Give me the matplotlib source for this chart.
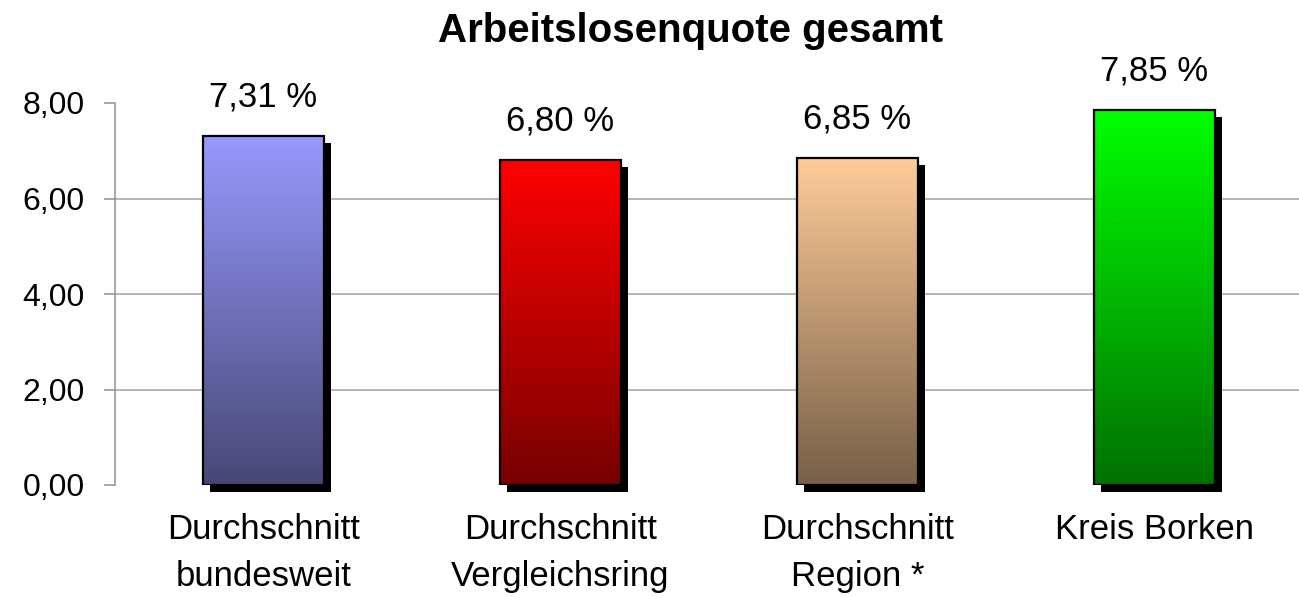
import numpy as np
import matplotlib
matplotlib.use("Agg")
import matplotlib.pyplot as plt
import matplotlib.transforms as mtransforms

categories = ["Durchschnitt\nbundesweit", "Durchschnitt\nVergleichsring", "Durchschnitt\nRegion *", "Kreis Borken"]
values = [7.31, 6.80, 6.85, 7.85]
value_labels = ["7,31 %", "6,80 %", "6,85 %", "7,85 %"]
top_colors = [(153, 153, 255), (255, 0, 0), (255, 204, 153), (0, 255, 0)]
bottom_colors = [(71, 71, 117), (119, 0, 0), (119, 95, 71), (0, 112, 0)]
yticks = [0, 2, 4, 6, 8]
ytick_labels = ["0,00", "2,00", "4,00", "6,00", "8,00"]
title = "Arbeitslosenquote gesamt"

plt.rcParams['font.family'] = ['Liberation Sans', 'DejaVu Sans']

W, H = 1299, 597
fig = plt.figure(figsize=(W / 100, H / 100), dpi=100)
ax = fig.add_axes([115 / W, 112 / H, (1303 - 115) / W, 382 / H])
ax.set_xlim(-0.5, 3.5)
ax.set_ylim(0, 8)

# gridlines
for g in [2, 4, 6]:
    ax.axhline(g, color='#a0a0a0', lw=1.1, zorder=0)

bw = 0.41
shadow_tr = mtransforms.offset_copy(ax.transData, fig=fig, x=7, y=-7, units='dots')
for i, v in enumerate(values):
    # shadow
    ax.bar(i, v, width=bw, color='black', transform=shadow_tr, clip_on=False, zorder=1)
    # gradient
    n = 256
    t = np.linspace(0, 1, n)[:, None]
    top = np.array(top_colors[i]) / 255
    bot = np.array(bottom_colors[i]) / 255
    grad = top[None, :] * (1 - t) + bot[None, :] * t
    grad = grad[:, None, :]
    ax.imshow(grad, extent=[i - bw / 2, i + bw / 2, 0, v], aspect='auto',
              origin='upper', zorder=2, interpolation='bilinear')
    ax.bar(i, v, width=bw, facecolor='none', edgecolor='black', lw=1.6, zorder=3)
    ax.annotate(value_labels[i], (i, v), xytext=(0, 28), textcoords='offset points',
                ha='center', va='center', fontsize=25)

ax.set_xlim(-0.5, 3.5)
ax.set_ylim(0, 8)

for s in ['top', 'right', 'bottom']:
    ax.spines[s].set_visible(False)
ax.spines['left'].set_color('#909090')
ax.spines['left'].set_linewidth(1.1)

ax.set_yticks(yticks)
ax.set_yticklabels(ytick_labels, fontsize=23)
ax.tick_params(axis='y', length=8, width=1.1, color='#909090', pad=14)
ax.set_xticks(range(len(categories)))
ax.set_xticklabels(categories, fontsize=25, linespacing=1.55)
ax.tick_params(axis='x', length=0, pad=20)

fig.text(691 / W, 1 - 31 / H, title, ha='center', va='center', fontsize=29, fontweight='bold')

fig.savefig('out.png', dpi=100)
